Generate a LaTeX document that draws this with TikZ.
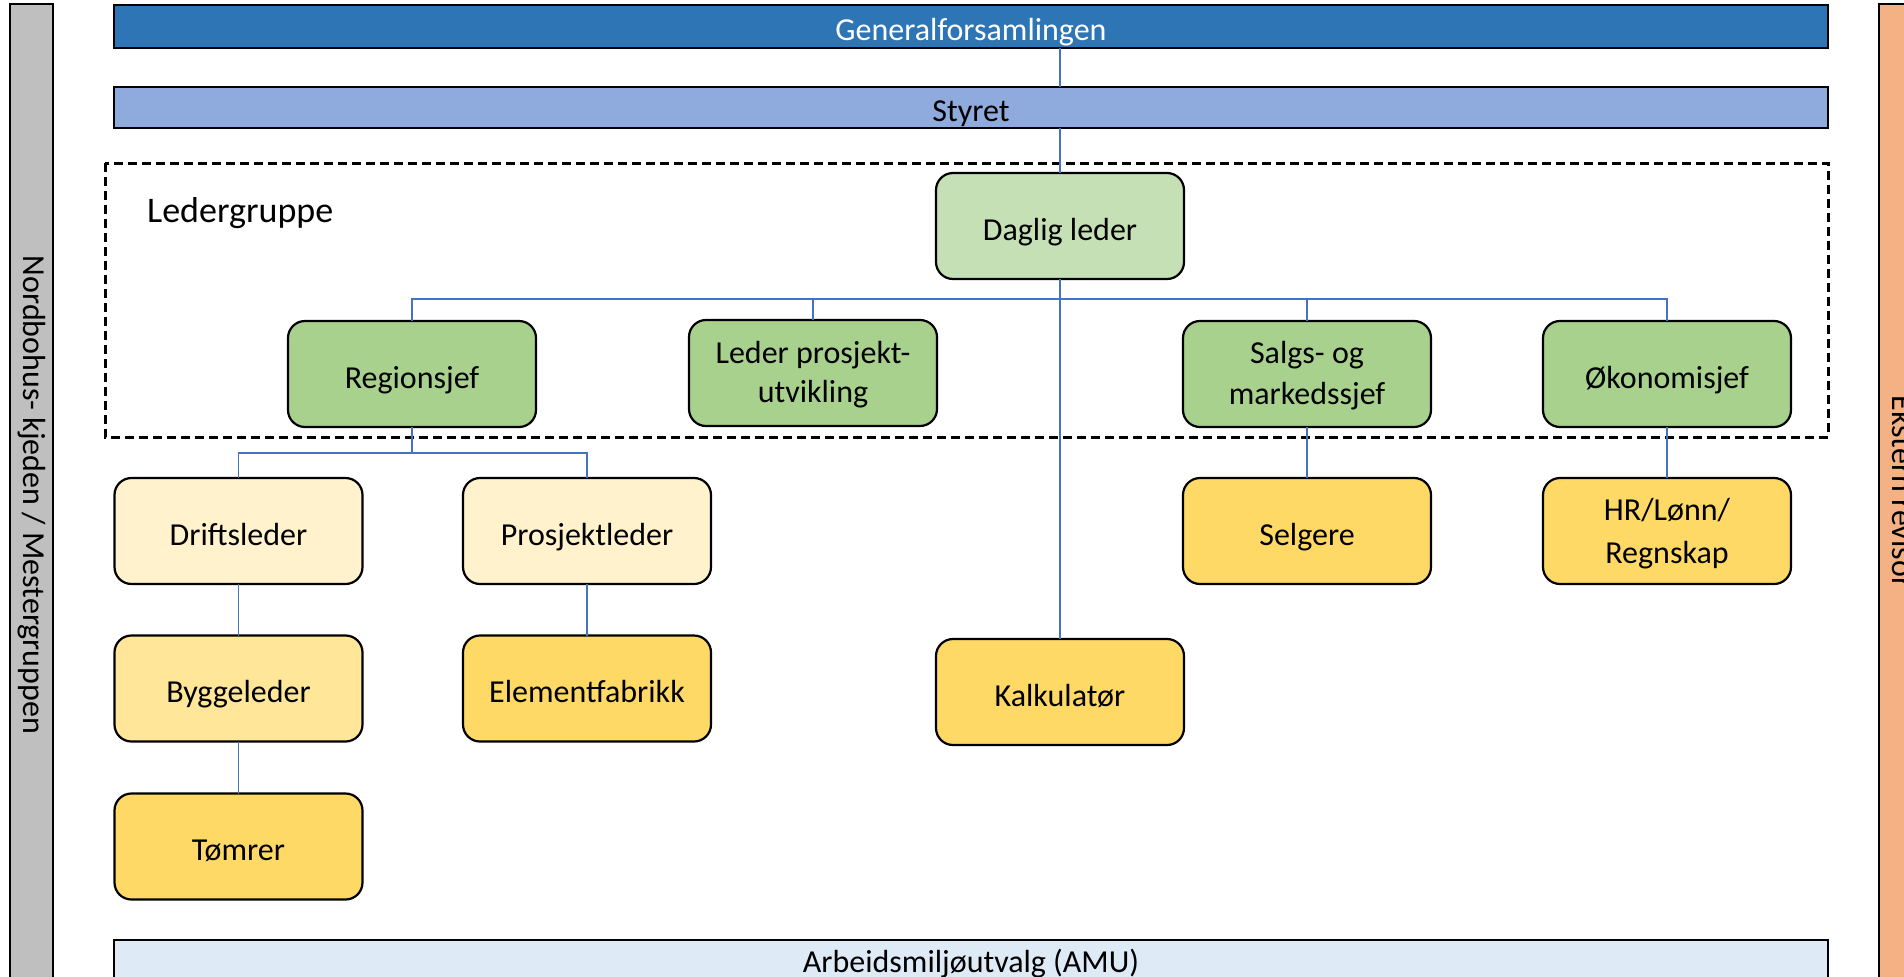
\documentclass[tikz,border=0pt]{standalone}
\usepackage{fontspec}
\setmainfont{Carlito}
\definecolor{genblue}{HTML}{2E75B6}
\definecolor{styblue}{HTML}{8FAADC}
\definecolor{amublue}{HTML}{DEEBF7}
\definecolor{leftgray}{HTML}{BFBFBF}
\definecolor{rightorange}{HTML}{F4B183}
\definecolor{lightgreen}{HTML}{C5E0B4}
\definecolor{midgreen}{HTML}{A9D18E}
\definecolor{paleyellow}{HTML}{FFF2CC}
\definecolor{lightyellow}{HTML}{FFE699}
\definecolor{gold}{HTML}{FFD966}
\definecolor{linkblue}{HTML}{4472C4}
\begin{document}
\begin{tikzpicture}[x=1pt,y=-1pt,
  box/.style={draw=black, line width=2.2pt, rounded corners=17pt, minimum width=248pt, minimum height=106pt, inner sep=0pt, outer sep=0pt, align=center, font=\fontsize{32}{39}\selectfont, text height=30pt, text depth=2pt},
  twoline/.style={text height=60pt, text depth=2pt},
  bar/.style={draw=black, line width=2.5pt, inner sep=0pt, outer sep=0pt, font=\fontsize{32}{39}\selectfont, text height=30pt, text depth=2pt},
  link/.style={draw=linkblue, line width=1.2pt}]
\useasboundingbox (0,0) rectangle (1904,977);
\clip (0,0) rectangle (1904,977);

% side bars
\draw[fill=leftgray, line width=2.5pt] (10,4) rectangle (53,995);
\node[rotate=-90, font=\fontsize{32}{39}\selectfont, inner sep=0pt] (nord) at (31.5,495) {Nordbohus- kjeden / Mestergruppen};
\draw[fill=rightorange, line width=2.5pt] (1879,4) rectangle (1930,995);
\node[rotate=-90, font=\fontsize{32}{39}\selectfont, inner sep=0pt] (ekst) at (1903,492) {Ekstern revisor};

% top and bottom bars
\node[bar, fill=genblue, text=white, minimum width=1714pt, minimum height=43pt] (gen) at (971,26.5) {Generalforsamlingen};
\node[bar, fill=styblue, minimum width=1714pt, minimum height=41pt] (sty) at (971,107.5) {Styret};
\node[bar, fill=amublue, minimum width=1714pt, minimum height=50pt, anchor=north] (amu) at (971,940) {};
\node[font=\fontsize{32}{39}\selectfont, inner sep=0pt, anchor=base] (amut) at (971,972) {Arbeidsmiljøutvalg (AMU)};

% leader group frame
\draw[line width=3pt, dash pattern=on 9pt off 5pt] (105,163) rectangle (1828,437);
\node[anchor=base west, inner sep=0pt, font=\fontsize{36}{42}\selectfont] (lg) at (147,222) {Ledergruppe};

% boxes
\node[box, fill=lightgreen] (dag) at (1060,226) {Daglig leder};
\node[box, fill=midgreen] (reg) at (412,374) {Regionsjef};
\node[box, twoline, fill=midgreen] (lp) at (813,373) {Leder prosjekt-\\utvikling};
\node[box, twoline, fill=midgreen, font=\fontsize{32}{41}\selectfont, text height=62pt] (sal) at (1307,374) {Salgs- og\\markedssjef};
\node[box, fill=midgreen] (oek) at (1667,374) {Økonomisjef};
\node[box, fill=paleyellow] (drift) at (238.5,531) {Driftsleder};
\node[box, fill=paleyellow] (pros) at (587,531) {Prosjektleder};
\node[box, fill=gold] (selg) at (1307,531) {Selgere};
\node[box, twoline, fill=gold, font=\fontsize{32}{43}\selectfont, text height=66pt] (hr) at (1667,531) {HR/Lønn/\\Regnskap};
\node[box, fill=lightyellow] (bygg) at (238.5,688.5) {Byggeleder};
\node[box, fill=gold] (elem) at (587,688.5) {Elementfabrikk};
\node[box, fill=gold] (kalk) at (1060,692) {Kalkulatør};
\node[box, fill=gold] (tom) at (238.5,846.5) {Tømrer};

% connectors
\coordinate (hbar) at (1060,299);
\coordinate (rbar) at (412,453);
\draw[link] (gen.south -| dag.north) -- (sty.north -| dag.north);
\draw[link] (sty.south -| dag.north) -- (dag.north);
\draw[link] (dag.south) -- (kalk.north);
\draw[link] (reg.north) |- (hbar) -| (oek.north);
\draw[link] (lp.north) |- (hbar);
\draw[link] (sal.north) |- (hbar);
\draw[link] (reg.south) -- (rbar);
\draw[link] (drift.north) |- (rbar) -| (pros.north);
\draw[link] (drift.south) -- (bygg.north);
\draw[link] (bygg.south) -- (tom.north);
\draw[link] (pros.south) -- (elem.north);
\draw[link] (sal.south) -- (selg.north);
\draw[link] (oek.south) -- (hr.north);
\end{tikzpicture}
\end{document}
